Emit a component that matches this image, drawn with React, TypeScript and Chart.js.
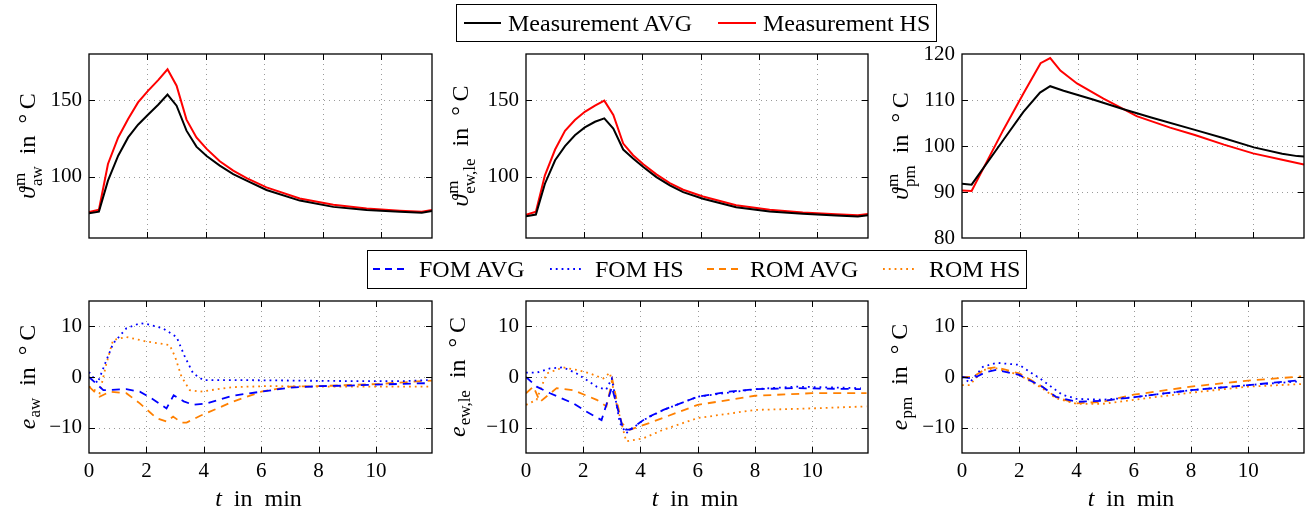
import React, { useEffect, useRef } from 'react';
import { Chart, registerables } from 'chart.js';
Chart.register(...registerables);

const FONT = '"Liberation Serif", "DejaVu Serif", "Times New Roman", serif';
const TICK_SIZE = 21;
const TEXT_SIZE = 24;
const LEGEND_SIZE = 24;

// ---------------- data: measured temperatures ----------------
const tTop = [0, 0.34, 0.65, 1.0, 1.34, 1.68, 2.02, 2.37, 2.69, 3.0, 3.34, 3.68, 4.03, 4.48, 4.94, 5.4, 6.08, 7.22, 8.37, 9.51, 10.65, 11.4, 11.75];
const awAvg = [76.1, 77.2, 97.4, 113.7, 125.6, 133.9, 140.4, 146.9, 153.5, 146.3, 130.0, 119.6, 113.5, 107.2, 101.7, 97.4, 91.3, 84.4, 80.3, 78.3, 77.2, 76.5, 77.6];
const awHs = [77.0, 78.4, 108.3, 125.6, 137.6, 148.4, 156.0, 163.0, 170.0, 159.3, 137.2, 125.6, 118.1, 110.0, 103.9, 99.1, 93.0, 85.8, 81.7, 79.3, 77.8, 77.1, 78.2];
const ewAvg = [74.2, 75.3, 95.4, 110.7, 119.9, 127.0, 132.1, 135.8, 138.0, 131.4, 117.7, 111.8, 106.3, 99.7, 94.3, 89.9, 85.6, 80.1, 77.3, 75.8, 74.6, 74.0, 74.8];
const ewHs = [75.2, 77.1, 100.9, 117.7, 129.9, 136.9, 142.3, 146.3, 149.6, 140.2, 121.6, 114.0, 108.1, 101.5, 95.8, 91.5, 87.1, 81.4, 78.4, 76.6, 75.5, 74.8, 75.7];
const tPmAvg = [0, 0.33, 1.42, 2.11, 2.68, 3.03, 3.49, 4.5, 5.55, 6.5, 8.0, 9.0, 10.03, 11.0, 11.52, 11.75];
const pmAvg = [91.8, 91.6, 101.3, 107.4, 111.6, 113.0, 112.0, 110.1, 108.0, 106.2, 103.5, 101.7, 99.7, 98.3, 97.8, 97.7];
const tPmHs = [0, 0.33, 1.42, 2.11, 2.7, 3.03, 3.38, 3.95, 4.86, 5.55, 6.0, 7.15, 8.0, 9.0, 10.0, 11.0, 11.75];
const pmHs = [90.3, 90.2, 103.5, 111.4, 118.0, 119.1, 116.4, 113.6, 110.3, 108.0, 106.5, 104.0, 102.4, 100.3, 98.4, 97.0, 96.0];

// ---------------- data: model errors ----------------
const tAwFomAvg = [0, 0.5, 1.3, 1.77, 2.2, 2.7, 2.95, 3.3, 3.63, 4.1, 5.0, 6.0, 7.0, 8.05, 9.1, 10.0, 11.9];
const awFomAvg = [0, -2.6, -2.4, -2.9, -4.3, -6.2, -3.6, -4.8, -5.5, -5.2, -3.7, -2.9, -2.1, -1.8, -1.7, -1.5, -1.2];
const tAwFomHs = [0, 0.3, 0.55, 0.84, 1.3, 1.77, 2.0, 2.58, 3.05, 3.34, 3.63, 3.98, 5.0, 7.0, 9.0, 11.0, 11.8];
const awFomHs = [1.0, -1.2, 2.5, 6.6, 9.6, 10.6, 10.5, 9.6, 7.9, 4.0, 0.7, -0.6, -0.6, -0.7, -0.8, -0.8, -0.6];
const tAwRomAvg = [0, 0.37, 0.72, 1.3, 1.77, 2.35, 2.7, 2.93, 3.22, 3.4, 3.86, 5.0, 6.0, 7.0, 8.05, 10.0, 11.94];
const awRomAvg = [-1.9, -3.9, -2.9, -3.2, -5.2, -8.1, -8.8, -7.8, -9.0, -9.0, -7.7, -4.9, -2.9, -1.9, -1.8, -1.4, -0.7];
const tAwRomHs = [0, 0.37, 0.6, 0.84, 1.3, 2.0, 2.81, 3.0, 3.22, 3.51, 3.86, 5.0, 6.19, 8.0, 10.0, 11.9];
const awRomHs = [-1.9, -3.2, 2.5, 7.3, 7.9, 7.0, 6.3, 4.0, 0.1, -2.6, -2.9, -2.0, -1.8, -1.9, -1.9, -1.9];

const tEwFomAvg = [0, 0.37, 0.84, 1.65, 2.1, 2.64, 3.0, 3.4, 3.63, 4.2, 4.8, 6.0, 7.1, 8.0, 9.4, 11.7];
const ewFomAvg = [0, -1.9, -3.2, -5.2, -6.8, -8.5, -2.0, -10.4, -10.4, -8.1, -6.5, -3.9, -2.9, -2.4, -2.2, -2.4];
const tEwFomHs = [0, 0.37, 0.84, 1.3, 1.77, 2.47, 2.8, 3.0, 3.28, 3.5, 4.1, 4.8, 6.0, 8.0, 9.4, 11.7];
const ewFomHs = [0.85, 0.85, 1.7, 1.9, 0.7, -1.9, -2.5, -0.3, -9.1, -11.1, -8.5, -6.5, -3.9, -2.4, -1.9, -2.2];
const tEwRomAvg = [0, 0.26, 0.49, 1.07, 1.65, 2.47, 2.81, 3.02, 3.34, 3.63, 4.3, 6.0, 8.0, 10.0, 11.9];
const ewRomAvg = [-3.2, -1.9, -4.9, -2.2, -2.6, -4.5, -5.8, -0.6, -9.1, -10.4, -9.1, -5.5, -3.7, -3.2, -3.2];
const tEwRomHs = [0, 0.37, 0.72, 1.3, 1.77, 2.23, 2.7, 2.93, 3.16, 3.5, 4.1, 4.8, 6.0, 8.0, 10.0, 11.9];
const ewRomHs = [-5.5, -4.5, 0.7, 1.9, 1.4, 0.7, -0.3, 0.85, -5.2, -12.7, -12.1, -10.4, -8.1, -6.5, -6.2, -5.8];

const tPmFomAvg = [0, 0.38, 0.85, 1.2, 2.0, 2.8, 3.28, 4.0, 4.9, 6.0, 8.0, 10.0, 11.7];
const pmFomAvg = [0, -0.3, 1.0, 1.4, 0.4, -1.9, -3.9, -4.9, -4.7, -4.0, -2.6, -1.6, -0.7];
const tPmFomHs = [0, 0.27, 0.73, 1.2, 2.0, 2.8, 3.5, 4.0, 4.9, 6.0, 8.0, 10.0, 11.7];
const pmFomHs = [0, -1.1, 2.0, 2.8, 2.4, -0.6, -3.5, -4.3, -4.5, -4.0, -2.6, -1.6, -0.9];
const tPmRomAvg = [0, 0.38, 0.85, 1.2, 2.0, 2.8, 3.28, 4.0, 4.9, 6.0, 8.0, 10.0, 11.85];
const pmRomAvg = [0, 0, 1.7, 1.9, 0.7, -1.9, -4.0, -5.2, -4.9, -3.5, -1.9, -0.7, 0.1];
const tPmRomHs = [0, 0.27, 0.73, 1.2, 2.0, 2.8, 3.28, 4.0, 4.9, 6.0, 8.0, 10.0, 11.85];
const pmRomHs = [-1.6, -1.6, 1.4, 1.7, 0.4, -2.2, -4.2, -5.3, -5.3, -4.5, -3.1, -1.9, -1.4];

// ---------------- ticks & labels ----------------
const xTicks = [0, 2, 4, 6, 8, 10];
const yTicksAw = [100, 150];
const yTicksEw = [100, 150];
const yTicksPm = [80, 90, 100, 110, 120];
const yTicksErr = [-10, 0, 10];
const legendTop = ['Measurement AVG', 'Measurement HS'];
const legendBottom = ['FOM AVG', 'FOM HS', 'ROM AVG', 'ROM HS'];

const BLACK = '#000000';
const RED = '#ff0000';
const BLUE = '#0000ff';
const ORANGE = '#ff8000';
const DASH = [8, 6];
const DOT = [1.8, 4];
const SP = '\u2002';

type Seg = { t: string; it?: boolean; sup?: string; sub?: string };

const pts = (t: number[], v: number[]) => t.map((x, i) => ({ x, y: v[i] }));

function fontStr(size: number, it?: boolean) {
  return `${it ? 'italic ' : ''}${size}px ${FONT}`;
}

function richWidth(ctx: CanvasRenderingContext2D, segs: Seg[], size: number) {
  let w = 0;
  const small = Math.round(size * 0.7);
  for (const s of segs) {
    ctx.font = fontStr(size, s.it);
    w += ctx.measureText(s.t).width;
    if (s.sup || s.sub) {
      ctx.font = fontStr(small);
      const a = s.sup ? ctx.measureText(s.sup).width : 0;
      const b = s.sub ? ctx.measureText(s.sub).width : 0;
      w += Math.max(a, b) + 1;
    }
  }
  return w;
}

function drawRich(ctx: CanvasRenderingContext2D, segs: Seg[], size: number, x: number, y: number) {
  const small = Math.round(size * 0.7);
  let cx = x;
  ctx.textBaseline = 'alphabetic';
  ctx.textAlign = 'left';
  for (const s of segs) {
    ctx.font = fontStr(size, s.it);
    ctx.fillText(s.t, cx, y);
    cx += ctx.measureText(s.t).width;
    if (s.sup || s.sub) {
      ctx.font = fontStr(small);
      let w = 0;
      if (s.sup) {
        ctx.fillText(s.sup, cx + 1, y - size * 0.4);
        w = ctx.measureText(s.sup).width;
      }
      if (s.sub) {
        ctx.fillText(s.sub, cx + 1, y + size * (s.sup ? 0.3 : 0.22));
        w = Math.max(w, ctx.measureText(s.sub).width);
      }
      cx += w + 1;
    }
  }
}

function framePlugin(opts: { yTitle: Seg[]; yTitleX: number; xTitle: boolean; xTitleY: number }) {
  return {
    id: 'frameDeco',
    beforeDatasetsDraw(chart: any) {
      const { ctx, chartArea: a, scales } = chart;
      ctx.save();
      ctx.strokeStyle = '#9a9a9a';
      ctx.lineWidth = 1;
      ctx.setLineDash([1, 4]);
      for (const t of scales.x.ticks) {
        const px = Math.round(scales.x.getPixelForValue(t.value)) + 0.5;
        if (px <= a.left + 2 || px >= a.right - 2) continue;
        ctx.beginPath();
        ctx.moveTo(px, a.top);
        ctx.lineTo(px, a.bottom);
        ctx.stroke();
      }
      for (const t of scales.y.ticks) {
        const py = Math.round(scales.y.getPixelForValue(t.value)) + 0.5;
        if (py <= a.top + 2 || py >= a.bottom - 2) continue;
        ctx.beginPath();
        ctx.moveTo(a.left, py);
        ctx.lineTo(a.right, py);
        ctx.stroke();
      }
      ctx.restore();
    },
    afterDatasetsDraw(chart: any) {
      const { ctx, chartArea: a, scales } = chart;
      ctx.save();
      ctx.setLineDash([]);
      ctx.strokeStyle = '#000';
      ctx.lineWidth = 1;
      const L = 6;
      for (const t of scales.x.ticks) {
        const px = Math.round(scales.x.getPixelForValue(t.value)) + 0.5;
        if (px <= a.left + 2 || px >= a.right - 2) continue;
        ctx.beginPath();
        ctx.moveTo(px, a.bottom);
        ctx.lineTo(px, a.bottom - L);
        ctx.moveTo(px, a.top);
        ctx.lineTo(px, a.top + L);
        ctx.stroke();
      }
      for (const t of scales.y.ticks) {
        const py = Math.round(scales.y.getPixelForValue(t.value)) + 0.5;
        if (py <= a.top + 2 || py >= a.bottom - 2) continue;
        ctx.beginPath();
        ctx.moveTo(a.left, py);
        ctx.lineTo(a.left + L, py);
        ctx.moveTo(a.right, py);
        ctx.lineTo(a.right - L, py);
        ctx.stroke();
      }
      ctx.lineWidth = 1.3;
      ctx.strokeRect(a.left, a.top, a.right - a.left, a.bottom - a.top);
      ctx.restore();
    },
    afterDraw(chart: any) {
      const { ctx, chartArea: a } = chart;
      ctx.save();
      ctx.fillStyle = '#000';
      const w = richWidth(ctx, opts.yTitle, TEXT_SIZE);
      ctx.translate(opts.yTitleX, (a.top + a.bottom) / 2);
      ctx.rotate(-Math.PI / 2);
      drawRich(ctx, opts.yTitle, TEXT_SIZE, -w / 2, 0);
      ctx.restore();
      if (opts.xTitle) {
        ctx.save();
        ctx.fillStyle = '#000';
        const segs: Seg[] = [{ t: 't', it: true }, { t: SP + 'in' + SP + 'min' }];
        const ww = richWidth(ctx, segs, TEXT_SIZE);
        drawRich(ctx, segs, TEXT_SIZE, (a.left + a.right) / 2 - ww / 2 - 2, opts.xTitleY);
        ctx.restore();
      }
    },
  };
}

type PanelSpec = {
  left: number;
  top: number;
  width: number;
  height: number;
  xMax: number;
  yMin: number;
  yMax: number;
  yTicks: number[];
  xLabels: boolean;
  xAxisH: number;
  yTitle: Seg[];
  yTitleX: number;
  datasets: any[];
};

function Panel({ spec }: { spec: PanelSpec }) {
  const ref = useRef<HTMLCanvasElement>(null);
  useEffect(() => {
    if (!ref.current) return;
    const chart = new Chart(ref.current, {
      type: 'line',
      data: { datasets: spec.datasets },
      options: {
        animation: false,
        responsive: false,
        devicePixelRatio: 1,
        layout: { padding: { top: 20, right: 8, left: 0, bottom: 0 } },
        plugins: { legend: { display: false }, tooltip: { enabled: false } },
        elements: { point: { radius: 0 }, line: { tension: 0 } },
        scales: {
          x: {
            type: 'linear',
            min: 0,
            max: spec.xMax,
            grid: { display: false, drawTicks: false },
            border: { display: false },
            afterBuildTicks: (s: any) => {
              s.ticks = xTicks.map((v) => ({ value: v }));
            },
            afterFit: (s: any) => {
              s.height = spec.xAxisH;
            },
            ticks: {
              display: spec.xLabels,
              padding: 6,
              maxRotation: 0,
              autoSkip: false,
              color: '#000',
              font: { family: FONT, size: TICK_SIZE },
              callback: (v: any) => String(v).replace('-', '\u2212'),
            },
          },
          y: {
            type: 'linear',
            min: spec.yMin,
            max: spec.yMax,
            grid: { display: false, drawTicks: false },
            border: { display: false },
            afterBuildTicks: (s: any) => {
              s.ticks = spec.yTicks.map((v) => ({ value: v }));
            },
            afterFit: (s: any) => {
              s.width = 89;
            },
            ticks: {
              padding: 7,
              autoSkip: false,
              color: '#000',
              font: { family: FONT, size: TICK_SIZE },
              callback: (v: any) => String(v).replace('-', '\u2212'),
            },
          },
        },
      },
      plugins: [
        framePlugin({
          yTitle: spec.yTitle,
          yTitleX: spec.yTitleX,
          xTitle: spec.xLabels,
          xTitleY: spec.height - 4,
        }),
      ],
    } as any);
    return () => chart.destroy();
  }, []);
  return (
    <canvas
      ref={ref}
      width={spec.width}
      height={spec.height}
      style={{ position: 'absolute', left: spec.left, top: spec.top, width: spec.width, height: spec.height }}
    />
  );
}

const lineDs = (t: number[], v: number[], color: string) => ({
  data: pts(t, v),
  borderColor: color,
  backgroundColor: color,
  borderWidth: 2,
  fill: false,
});
const errDs = (t: number[], v: number[], color: string, dash: number[]) => ({
  data: pts(t, v),
  borderColor: color,
  backgroundColor: color,
  borderWidth: 1.8,
  borderDash: dash,
  borderCapStyle: 'butt',
  fill: false,
});

const TOP_TOP = 34;
const TOP_H = 224;
const BOT_TOP = 281;
const BOT_H = 229;

const tail: Seg = { t: SP + 'in' + SP + '\u00b0\u2009C' };

const panels: PanelSpec[] = [
  {
    left: 0, top: TOP_TOP, width: 440, height: TOP_H, xMax: 11.75, yMin: 60, yMax: 180, yTicks: yTicksAw,
    xLabels: false, xAxisH: 20, yTitleX: 35,
    yTitle: [{ t: '\u03d1', it: true, sup: 'm', sub: 'aw' }, tail],
    datasets: [lineDs(tTop, awAvg, BLACK), lineDs(tTop, awHs, RED)],
  },
  {
    left: 437, top: TOP_TOP, width: 439, height: TOP_H, xMax: 11.75, yMin: 60, yMax: 180, yTicks: yTicksEw,
    xLabels: false, xAxisH: 20, yTitleX: 31,
    yTitle: [{ t: '\u03d1', it: true, sup: 'm', sub: 'ew,le' }, tail],
    datasets: [lineDs(tTop, ewAvg, BLACK), lineDs(tTop, ewHs, RED)],
  },
  {
    left: 873, top: TOP_TOP, width: 439, height: TOP_H, xMax: 11.75, yMin: 80, yMax: 120, yTicks: yTicksPm,
    xLabels: false, xAxisH: 20, yTitleX: 35,
    yTitle: [{ t: '\u03d1', it: true, sup: 'm', sub: 'pm' }, tail],
    datasets: [lineDs(tPmAvg, pmAvg, BLACK), lineDs(tPmHs, pmHs, RED)],
  },
  {
    left: 0, top: BOT_TOP, width: 440, height: BOT_H, xMax: 11.95, yMin: -15, yMax: 15, yTicks: yTicksErr,
    xLabels: true, xAxisH: 57, yTitleX: 35,
    yTitle: [{ t: 'e', it: true, sub: 'aw' }, tail],
    datasets: [
      errDs(tAwFomAvg, awFomAvg, BLUE, DASH),
      errDs(tAwFomHs, awFomHs, BLUE, DOT),
      errDs(tAwRomAvg, awRomAvg, ORANGE, DASH),
      errDs(tAwRomHs, awRomHs, ORANGE, DOT),
    ],
  },
  {
    left: 437, top: BOT_TOP, width: 439, height: BOT_H, xMax: 11.95, yMin: -15, yMax: 15, yTicks: yTicksErr,
    xLabels: true, xAxisH: 57, yTitleX: 28,
    yTitle: [{ t: 'e', it: true, sub: 'ew,le' }, tail],
    datasets: [
      errDs(tEwFomAvg, ewFomAvg, BLUE, DASH),
      errDs(tEwFomHs, ewFomHs, BLUE, DOT),
      errDs(tEwRomAvg, ewRomAvg, ORANGE, DASH),
      errDs(tEwRomHs, ewRomHs, ORANGE, DOT),
    ],
  },
  {
    left: 873, top: BOT_TOP, width: 439, height: BOT_H, xMax: 11.95, yMin: -15, yMax: 15, yTicks: yTicksErr,
    xLabels: true, xAxisH: 57, yTitleX: 34,
    yTitle: [{ t: 'e', it: true, sub: 'pm' }, tail],
    datasets: [
      errDs(tPmFomAvg, pmFomAvg, BLUE, DASH),
      errDs(tPmFomHs, pmFomHs, BLUE, DOT),
      errDs(tPmRomAvg, pmRomAvg, ORANGE, DASH),
      errDs(tPmRomHs, pmRomHs, ORANGE, DOT),
    ],
  },
];

function Sample({ x, y, w, color, dash, lw }: { x: number; y: number; w: number; color: string; dash?: number[]; lw: number }) {
  return (
    <svg style={{ position: 'absolute', left: x, top: y - 4 }} width={w} height={8}>
      <line x1={0} y1={4} x2={w} y2={4} stroke={color} strokeWidth={lw} strokeDasharray={dash ? dash.join(' ') : undefined} />
    </svg>
  );
}

function Label({ x, y, text }: { x: number; y: number; text: string }) {
  return (
    <div
      style={{
        position: 'absolute',
        left: x,
        top: y - 13,
        fontFamily: FONT,
        fontSize: LEGEND_SIZE,
        lineHeight: '26px',
        whiteSpace: 'nowrap',
        color: '#000',
      }}
    >
      {text}
    </div>
  );
}

export default function App() {
  return (
    <div style={{ position: 'absolute', left: 0, top: 0, width: 1314, height: 510, background: '#fff', overflow: 'hidden' }}>
      {panels.map((p, i) => (
        <Panel key={i} spec={p} />
      ))}
      <div style={{ position: 'absolute', left: 456, top: 4, width: 479, height: 36, border: '1.3px solid #000' }} />
      <Sample x={464} y={23} w={37} color={BLACK} lw={2} />
      <Label x={508} y={23} text={legendTop[0]} />
      <Sample x={718} y={23} w={38} color={RED} lw={2} />
      <Label x={763} y={23} text={legendTop[1]} />

      <div style={{ position: 'absolute', left: 367, top: 250, width: 658, height: 37, border: '1.3px solid #000' }} />
      <Sample x={373} y={269} w={36} color={BLUE} lw={2} dash={[7, 5]} />
      <Label x={419} y={269} text={legendBottom[0]} />
      <Sample x={550} y={269} w={34} color={BLUE} lw={1.8} dash={DOT} />
      <Label x={595} y={269} text={legendBottom[1]} />
      <Sample x={707} y={269} w={36} color={ORANGE} lw={2} dash={[7, 5]} />
      <Label x={750} y={269} text={legendBottom[2]} />
      <Sample x={883} y={269} w={34} color={ORANGE} lw={1.8} dash={DOT} />
      <Label x={929} y={269} text={legendBottom[3]} />
    </div>
  );
}
